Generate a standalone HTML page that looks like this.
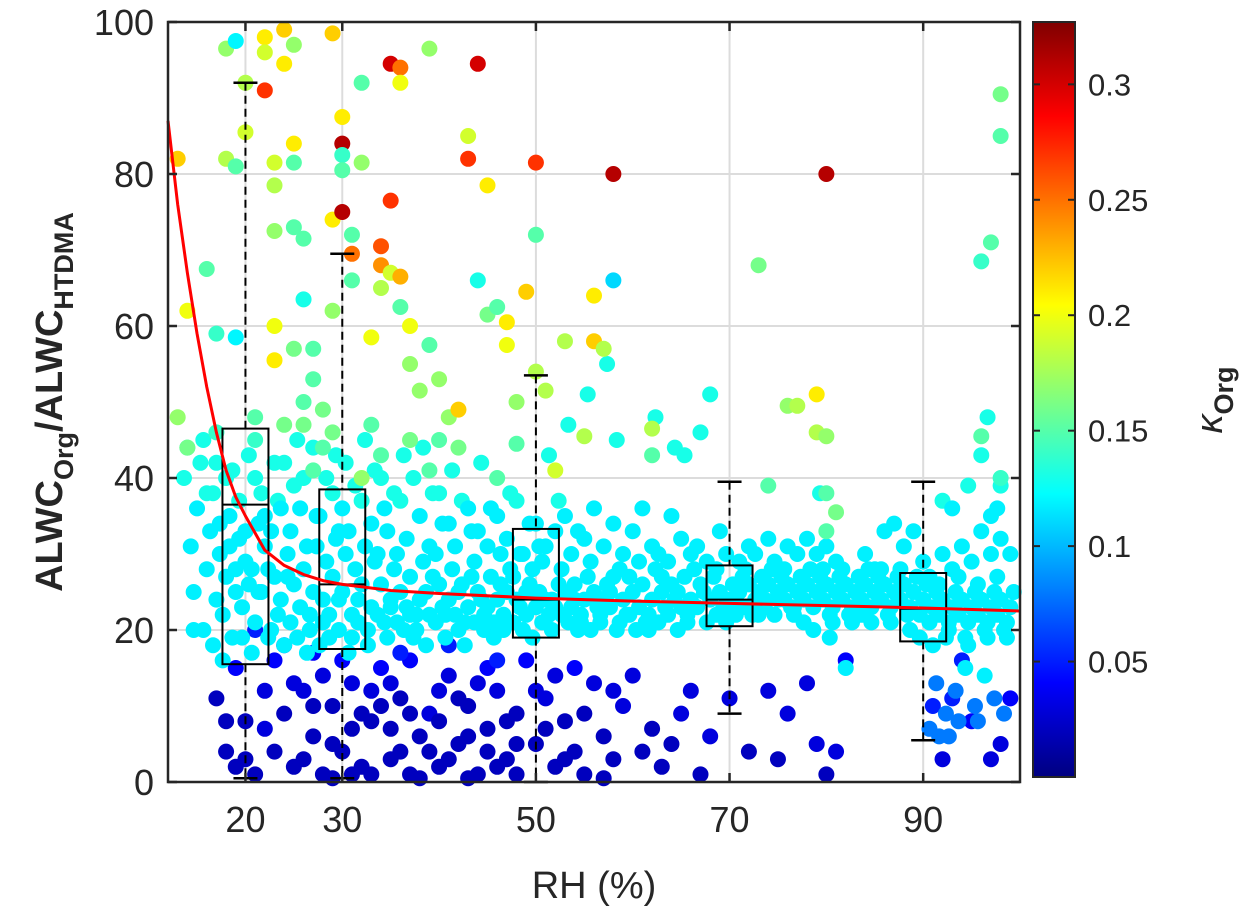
<!DOCTYPE html>
<html><head><meta charset="utf-8"><style>
html,body{margin:0;padding:0;background:#fff;}
svg{display:block;font-family:"Liberation Sans",Arial,sans-serif;}
</style></head><body>
<svg id="chart" width="1249" height="918" viewBox="0 0 1249 918" xmlns="http://www.w3.org/2000/svg">
<rect width="1249" height="918" fill="#fff"/>
<g id="grid"></g>
<g id="pts"></g>
<g id="boxes"></g>
<g id="curve"></g>
<g id="axes"></g>
<g id="cbar"></g>
<text x="594" y="898" font-size="38" text-anchor="middle" fill="#262626">RH (%)</text>
<text transform="translate(62,402) rotate(-90)" font-size="38" font-weight="bold" text-anchor="middle" fill="#262626">ALWC<tspan font-size="27" dy="11">Org</tspan><tspan dy="-11">/ALWC</tspan><tspan font-size="27" dy="11">HTDMA</tspan></text>
<text transform="translate(1222,400) rotate(-90)" font-size="38" font-weight="bold" text-anchor="middle" fill="#262626"><tspan font-style="italic" font-weight="normal">κ</tspan><tspan font-size="27" dy="11">Org</tspan></text>
</svg>
<script>
const xTicks=[20,30,50,70,90];
const yTicks=[0,20,40,60,80,100];
const cTicks=[0.05,0.1,0.15,0.2,0.25,0.3];
const curveRH=[12,13,14,15,16,17,18,19,20,22,24,26,28,30,35,40,50,60,70,80,90,100];
const curveRatio=[87,76,67,59,52,46,41,37.5,35,30.5,28.5,27.3,26.5,26,25.2,24.8,24.2,23.8,23.5,23.2,22.9,22.5];
const boxRH=[20,30,50,70,90];
const boxLow=[0.5,0.5,0,9,5.5];
const boxQ1=[15.5,17.5,19,20.5,18.5];
const boxMed=[36.5,26,24,24,22.8];
const boxQ3=[46.5,38.5,33.3,28.5,27.5];
const boxHigh=[92,69.5,53.5,39.5,39.5];
const cyanKappa=0.118;
const cyanGroups=[[14,[40,44,31]],[15,[25,36,42,20]],[16,[20,28,33,45,38]],[17,[18,24,30,38,42,34]],[18,[22,27,35,16,40,31]],[19,[19,25,32,41,28,37]],[20,[23,29,26,19,33,43]],[21,[17,21,34,28,40,25]],[22,[25,31,19,38,35,28]],[23,[20,27,22,33,42,37]],[24,[24,18,30,36,42,27]],[25,[21,26,19,33,39,45]],[26,[23,28,17,36,40,31]],[27,[20,25,31,22,44,35]],[28,[18,24,29,35,21,40]],[29,[22,27,32,19,38,43]],[30,[20,25,30,24,36,42,33]],[31,[17,22,28,33,19,39]],[32,[21,26,31,24,37,45]],[33,[18,23,29,20,34,41]],[34,[22,26,21,30,40,36]],[35,[19,24,28,33,23,38]],[36,[21,25,20,30,37,43]],[37,[23,27,19,32,22,40]],[38,[20,24,29,22,35,44]],[39,[18,22,27,25,31,38]],[40,[21,26,23,30,38,34]],[41,[19,24,28,22,34,41]],[42,[22,20,26,31,25,37]],[43,[18,23,27,21,36,33]],[44,[21,25,24,29,33,42]],[45,[20,23,27,22,31,36]],[46,[19,24,26,21,35,30]],[47,[22,25,28,20,32,38]],[48,[21,24,23,27,37,30]],[49,[20,22,26,30,25,34]],[50,[19,23,25,28,34,31]],[51,[21,24,22,29,31,43]],[52,[20,23,26,24,33,37]],[53,[22,25,21,28,35,47]],[54,[23,26,20,30,24,33]],[55,[21,24,27,22,32,51]],[56,[20,25,23,29,36]],[57,[22,24,26,21,31,55]],[58,[23,27,20,25,34,45]],[59,[21,24,22,28,30]],[60,[22,25,20,27,33]],[61,[23,26,21,29,36]],[62,[22,24,28,20,31,48]],[63,[21,25,23,30,27]],[64,[22,26,24,29,35,44]],[65,[20,23,27,25,32,43]],[66,[22,24,28,21,30]],[67,[23,26,25,31,46]],[68,[21,24,27,29,51]],[69,[22,25,23,28,33]],[70,[21,24,26,30,23]],[71,[22,25,27,24,29]],[72,[23,26,22,28,31]],[73,[24,25,27,30,22]],[74,[23,26,28,24,32]],[75,[22,25,27,29,24]],[76,[24,26,23,28,31]],[77,[23,25,27,22,30]],[78,[24,26,28,21,32]],[79,[23,25,27,20,30,38]],[80,[24,26,22,28,31,19]],[81,[23,25,27,21,29]],[82,[24,26,22,28,15]],[83,[23,25,27,21]],[84,[24,26,28,22,30]],[85,[23,25,27,21,28]],[86,[24,26,22,28,33]],[87,[23,25,27,21,34]],[88,[24,26,22,28,31]],[89,[23,25,27,20,33]],[90,[22,24,26,19,29]],[91,[21,23,25,27,18,13,7]],[92,[22,24,19,26,30,9,6,37]],[93,[21,23,25,20,28,12,6,36]],[94,[22,24,19,27,31,15,8]],[95,[21,23,25,18,29,10,39]],[96,[22,24,20,26,33,14,8,43]],[97,[21,23,25,19,30,11,48,35]],[98,[22,24,20,27,32,9,36,39]],[99,[21,23,25,19,30]]];
const bluePts=[[17,11,.02],[18,8,.02],[19,2,.02],[20,3,.02],[21,1,.02],[22,7,.03],[19,15,.04],[21,20,.05],[23,4,.02],[24,9,.02],[25,2,.02],[26,12,.03],[27,6,.02],[28,1,.02],[29,10,.02],[30,4,.02],[31,13,.03],[32,2,.02],[33,8,.02],[34,15,.04],[35,3,.02],[36,11,.02],[37,1,.02],[38,6,.02],[39,9,.03],[40,2,.02],[41,14,.03],[42,5,.02],[43,10,.02],[44,1,.02],[45,7,.02],[46,12,.03],[47,3,.02],[48,9,.02],[49,16,.04],[50,5,.02],[51,11,.03],[52,2,.02],[53,8,.02],[55,1,.02],[56,13,.03],[57,6,.02],[58,3,.02],[59,10,.03],[61,4,.02],[62,7,.02],[63,2,.02],[65,9,.03],[67,1,.02],[68,6,.03],[70,11,.03],[72,4,.02],[74,12,.03],[75,3,.02],[76,9,.03],[78,13,.03],[79,5,.03],[80,1,.02],[81,4,.03],[82,16,.04],[18,4,.02],[22,12,.03],[24,18,.04],[26,3,.02],[28,14,.03],[29,0.5,.02],[31,7,.02],[33,1,.02],[34,10,.02],[36,4,.02],[37,16,.04],[38,0.5,.02],[40,8,.02],[41,3,.02],[43,0.5,.02],[44,13,.03],[45,4,.02],[47,8,.02],[48,1,.02],[50,12,.03],[52,14,.03],[54,4,.02],[55,9,.02],[57,0.5,.02],[60,14,.03],[64,5,.02],[66,12,.03],[92,3,.03],[93,11,.05],[94,16,.05],[95,8,.04],[97,3,.03],[98,5,.03],[99,11,.04],[91,10,.05],[27,17,.04],[32,9,.02],[35,13,.03],[39,4,.02],[42,11,.02],[46,2,.02],[53,3,.02],[58,12,.03],[25,13,.03],[27,10,.02],[29,5,.02],[30,16,.04],[33,12,.03],[35,7,.02],[37,9,.02],[40,12,.03],[43,6,.02],[45,15,.04],[48,5,.02],[51,7,.02],[54,15,.04],[23,16,.04],[20,8,.02],[36,17,.05],[41,18,.05],[46,16,.05],[31,1,.02]];
const colorPts=[[13,82,.22],[14,62,.2],[13,48,.17],[14,44,.16],[16,67.5,.15],[17,59,.14],[17,46,.14],[18,82,.18],[18,96.5,.17],[19,97.5,.12],[19,81,.15],[19,58.5,.12],[20,92,.18],[20,85.5,.19],[21,48,.15],[21,45,.14],[22,98,.21],[22,96,.19],[22,91,.27],[23,81.5,.19],[23,78.5,.18],[23,72.5,.17],[23,60,.2],[23,55.5,.21],[24,99,.22],[24,94.5,.21],[25,97,.17],[25,84,.21],[25,81.5,.15],[25,73,.15],[25,57,.16],[26,71.5,.15],[26,63.5,.13],[26,50,.15],[26,47,.16],[27,57,.15],[27,53,.15],[28,49,.16],[29,62,.17],[29,74,.21],[29,98.5,.22],[30,84,.31],[30,75,.31],[30,87.5,.21],[30,82.5,.14],[30,80.5,.15],[31,69.5,.25],[31,72,.15],[31,66,.15],[32,92,.15],[32,81.5,.17],[33,58.5,.2],[33,47,.15],[34,70.5,.26],[34,68,.24],[34,65,.18],[35,94.5,.3],[35,67,.19],[35,76.5,.27],[36,94,.25],[36,92,.2],[36,62.5,.15],[36,66.5,.23],[37,60,.2],[37,55,.17],[38,51.5,.17],[39,96.5,.17],[39,57.5,.15],[40,53,.17],[40,45,.15],[41,48,.17],[42,49,.22],[43,85,.19],[43,82,.27],[44,94.5,.3],[44,66,.13],[45,61.5,.16],[45,78.5,.21],[46,62.5,.15],[47,60.5,.21],[47,57.5,.2],[48,50,.17],[48,44.5,.15],[49,64.5,.22],[50,81.5,.27],[50,72,.15],[50,54,.18],[51,51.5,.18],[52,41,.19],[53,58,.18],[55,45.5,.18],[56,58,.22],[56,64,.21],[57,57,.18],[58,80,.31],[58,66,.11],[62,46.5,.18],[62,43,.15],[73,68,.16],[74,39,.15],[76,49.5,.17],[77,49.5,.18],[79,51,.21],[79,46,.18],[80,45.5,.17],[80,38,.15],[80,80,.31],[80,33,.15],[81,35.5,.16],[96,68.5,.14],[96,45.5,.15],[97,71,.15],[98,85,.15],[98,90.5,.16],[98,40,.14],[27,41,.15],[29,46,.16],[32,40,.17],[34,43,.15],[37,45,.16],[39,41,.15],[42,44,.16],[46,40,.15],[24,47,.16],[28,44,.15]];

const X0=168,X1=1020,Y0=782,Y1=22,XMIN=12,XMAX=100,YMIN=0,YMAX=100;
const sx=v=>X0+(v-XMIN)/(XMAX-XMIN)*(X1-X0);
const sy=v=>Y0-(v-YMIN)/(YMAX-YMIN)*(Y0-Y1);
const CB0=777,CBT=22,CMAX=0.327;
const sc=v=>CB0-v/CMAX*(CB0-CBT);
const NS="http://www.w3.org/2000/svg";
function mk(tag,attrs,parent){const e=document.createElementNS(NS,tag);for(const k in attrs)e.setAttribute(k,attrs[k]);parent.appendChild(e);return e;}
function jet(t){t=Math.max(0,Math.min(1,t/CMAX));
 const r=Math.max(0,Math.min(1,1.5-Math.abs(4*t-3))),g=Math.max(0,Math.min(1,1.5-Math.abs(4*t-2))),b=Math.max(0,Math.min(1,1.5-Math.abs(4*t-1)));
 return `rgb(${Math.round(r*255)},${Math.round(g*255)},${Math.round(b*255)})`;}

const grid=document.getElementById('grid');
xTicks.forEach(v=>{const l=mk('line',{x1:sx(v),x2:sx(v),y1:Y1,y2:Y0,stroke:'#dcdcdc','stroke-width':2},grid);
 
 });
yTicks.forEach(v=>{const l=mk('line',{x1:X0,x2:X1,y1:sy(v),y2:sy(v),stroke:'#dcdcdc','stroke-width':2},grid);
 
 });

const ptsG=document.getElementById('pts');
const rh=[],ratio=[],kappa=[];
bluePts.forEach(p=>{rh.push(p[0]);ratio.push(p[1]);kappa.push(p[2]);});
cyanGroups.forEach(g=>g[1].forEach((y,j)=>{rh.push(g[0]+((j%3)-1)*0.35);ratio.push(y);kappa.push(y<14?0.08:cyanKappa+(y>36?0.012:0));}));
colorPts.forEach(p=>{rh.push(p[0]);ratio.push(p[1]);kappa.push(p[2]);});
for(let i=0;i<rh.length;i++){
 const c=mk('circle',{cx:sx(rh[i]),cy:sy(ratio[i]),r:8,fill:jet(kappa[i])},ptsG);
 
 
}

const bx=document.getElementById('boxes');
const hw=23;
boxRH.forEach((v,i)=>{const x=sx(v);
 const w1=mk('line',{x1:x,x2:x,y1:sy(boxHigh[i]),y2:sy(boxQ3[i]),stroke:'#000','stroke-width':2,'stroke-dasharray':'8,5'},bx);
 
 
 const w2=mk('line',{x1:x,x2:x,y1:sy(boxQ1[i]),y2:sy(boxLow[i]),stroke:'#000','stroke-width':2,'stroke-dasharray':'8,5'},bx);
 
 
 const c1=mk('line',{x1:x-12,x2:x+12,y1:sy(boxHigh[i]),y2:sy(boxHigh[i]),stroke:'#000','stroke-width':2.5},bx);
 
 
 const c2=mk('line',{x1:x-12,x2:x+12,y1:sy(boxLow[i]),y2:sy(boxLow[i]),stroke:'#000','stroke-width':2.5},bx);
 
 
 const r=mk('rect',{x:x-hw,y:sy(boxQ3[i]),width:2*hw,height:sy(boxQ1[i])-sy(boxQ3[i]),fill:'none',stroke:'#000','stroke-width':2},bx);
 
 
 const m=mk('line',{x1:x-hw,x2:x+hw,y1:sy(boxMed[i]),y2:sy(boxMed[i]),stroke:'#000','stroke-width':2},bx);
 
 
});

const cg=document.getElementById('curve');
const cp=mk('polyline',{points:curveRH.map((v,i)=>sx(v)+','+sy(curveRatio[i])).join(' '),fill:'none',stroke:'#ff0000','stroke-width':3,'stroke-linejoin':'round'},cg);



const ax=document.getElementById('axes');
const frame=mk('rect',{x:X0,y:Y1,width:X1-X0,height:Y0-Y1,fill:'none',stroke:'#262626','stroke-width':2.5},ax);


xTicks.forEach(v=>{
 mk('line',{x1:sx(v),x2:sx(v),y1:Y0,y2:Y0-9,stroke:'#262626','stroke-width':2.5},ax);
 mk('line',{x1:sx(v),x2:sx(v),y1:Y1,y2:Y1+9,stroke:'#262626','stroke-width':2.5},ax);
 const t=mk('text',{x:sx(v),y:Y0+50,'font-size':36,'text-anchor':'middle',fill:'#262626'},ax);
 t.textContent=v;
 
 
});
yTicks.forEach(v=>{
 mk('line',{x1:X0,x2:X0+9,y1:sy(v),y2:sy(v),stroke:'#262626','stroke-width':2.5},ax);
 mk('line',{x1:X1,x2:X1-9,y1:sy(v),y2:sy(v),stroke:'#262626','stroke-width':2.5},ax);
 const t=mk('text',{x:X0-14,y:sy(v)+13,'font-size':36,'text-anchor':'end',fill:'#262626'},ax);
 t.textContent=v;
 
 
});

const cb=document.getElementById('cbar');
const defs=mk('defs',{},cb);
const lg=mk('linearGradient',{id:'jetg',x1:0,y1:1,x2:0,y2:0},defs);
for(let i=0;i<=40;i++){mk('stop',{offset:(i/40),'stop-color':jet(i/40*CMAX)},lg);}
const cr=mk('rect',{x:1033,y:CBT,width:42,height:CB0-CBT,fill:'url(#jetg)',stroke:'#262626','stroke-width':2},cb);


cTicks.forEach(v=>{
 mk('line',{x1:1033,x2:1040,y1:sc(v),y2:sc(v),stroke:'#262626','stroke-width':2},cb);
 mk('line',{x1:1075,x2:1068,y1:sc(v),y2:sc(v),stroke:'#262626','stroke-width':2},cb);
 const t=mk('text',{x:1088,y:sc(v)+11,'font-size':31,fill:'#262626'},cb);
 t.textContent=v;
 
 
});
</script>
</body></html>
